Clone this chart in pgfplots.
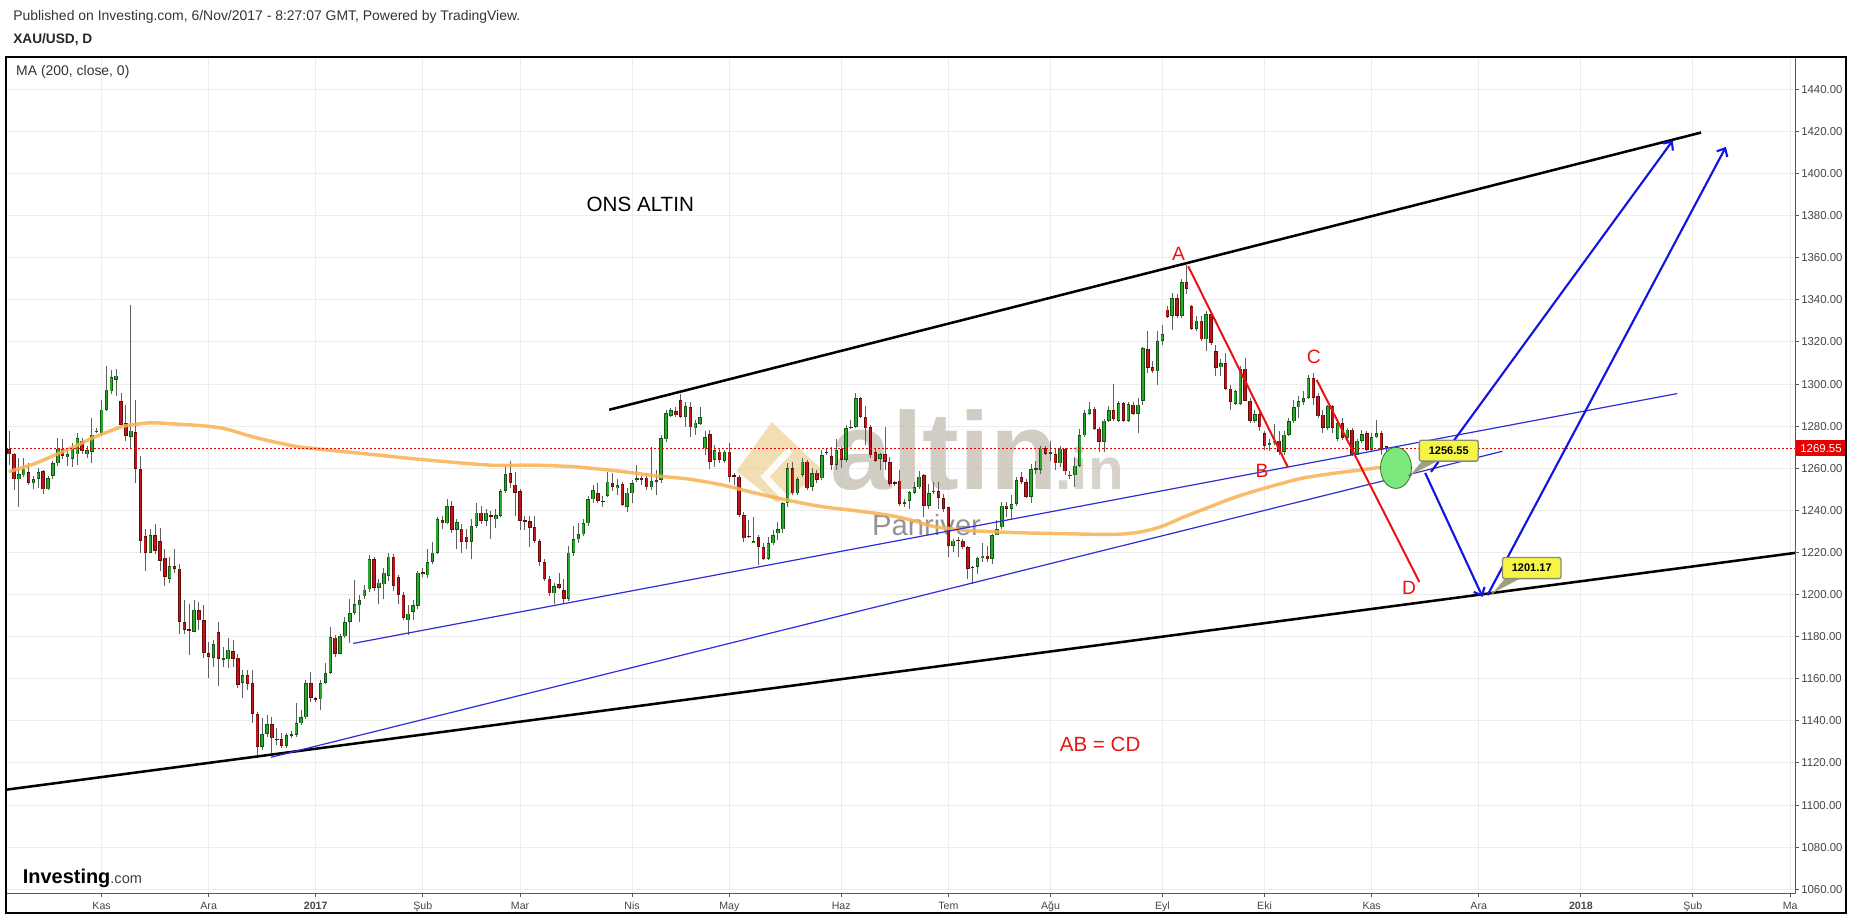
\documentclass[border=0pt]{standalone}
\usepackage{fontspec}
\setmainfont{Liberation Sans}
\usepackage{pgfplots}
\usepackage{pgfplotstable}
\pgfplotsset{compat=1.18}
\usetikzlibrary{arrows.meta}

\definecolor{gridgray}{RGB}{236,236,236}
\definecolor{axisgray}{RGB}{90,90,90}
\definecolor{labelgray}{RGB}{70,70,70}
\definecolor{wickgray}{RGB}{95,95,95}
\definecolor{upfill}{RGB}{40,170,40}
\definecolor{upedge}{RGB}{20,85,20}
\definecolor{dnfill}{RGB}{195,20,28}
\definecolor{dnedge}{RGB}{100,12,12}
\definecolor{maorange}{RGB}{247,178,80}
\definecolor{abred}{RGB}{232,20,20}
\definecolor{thinblue}{RGB}{45,45,215}
\definecolor{arrowblue}{RGB}{20,20,225}
\definecolor{ellfill}{RGB}{125,232,125}
\definecolor{elledge}{RGB}{40,120,40}
\definecolor{callyellow}{RGB}{245,245,70}
\definecolor{callborder}{RGB}{140,140,110}
\definecolor{calltail}{RGB}{160,160,125}
\definecolor{tagred}{RGB}{230,0,0}
\definecolor{wmtext}{RGB}{198,192,180}
\definecolor{wmgold}{RGB}{233,205,140}

\pgfplotstableread{
x o h l c
-19 1269.0 1277.6 1261.5 1266.6
-18 1267.0 1267.5 1249.6 1254.7
-17 1254.7 1265.0 1241.7 1257.1
-16 1256.6 1265.0 1256.0 1259.8
-15 1258.3 1262.6 1252.0 1253.1
-14 1252.8 1256.3 1250.0 1255.0
-13 1255.0 1260.2 1250.8 1258.2
-12 1258.7 1259.4 1247.6 1250.0
-11 1250.0 1256.3 1249.6 1255.5
-10 1256.3 1263.4 1254.7 1262.3
-9 1262.3 1274.2 1261.0 1269.3
-8 1269.3 1273.7 1264.2 1265.8
-7 1265.3 1268.1 1261.0 1266.6
-6 1264.5 1272.1 1260.7 1269.7
-5 1266.6 1276.8 1261.8 1274.5
-4 1272.9 1274.5 1266.6 1268.1
-3 1266.6 1270.5 1265.0 1268.6
-2 1267.7 1284.0 1262.3 1276.0
-1 1277.3 1279.0 1276.8 1277.9
0 1276.8 1292.6 1276.0 1287.9
1 1287.6 1308.5 1287.0 1297.4
2 1296.6 1306.9 1295.5 1303.4
3 1302.0 1307.0 1294.2 1304.0
4 1291.9 1295.8 1280.0 1280.8
5 1281.3 1290.3 1273.0 1275.3
6 1274.9 1337.6 1269.0 1277.9
7 1277.3 1292.3 1253.1 1259.8
8 1259.8 1265.8 1219.9 1225.5
9 1227.8 1231.0 1211.2 1219.9
10 1219.9 1231.3 1219.9 1228.1
11 1228.1 1233.4 1219.1 1220.7
12 1225.5 1231.8 1211.2 1216.0
13 1217.6 1221.5 1204.1 1208.4
14 1207.6 1218.0 1205.7 1213.6
15 1213.6 1221.5 1210.4 1212.3
16 1212.3 1214.5 1181.5 1187.0
17 1187.0 1197.3 1181.2 1183.1
18 1183.6 1195.7 1171.2 1183.0
19 1182.3 1197.3 1182.3 1192.9
20 1192.6 1196.5 1183.1 1187.8
21 1187.8 1194.9 1170.1 1172.3
22 1172.3 1177.6 1160.2 1170.4
23 1170.1 1178.3 1165.7 1176.4
24 1182.3 1187.0 1156.5 1169.6
25 1169.2 1175.2 1165.7 1169.8
26 1169.2 1179.6 1164.9 1173.9
27 1173.3 1178.3 1165.7 1169.6
28 1170.1 1171.7 1155.4 1157.0
29 1158.1 1164.1 1151.1 1161.7
30 1161.7 1164.1 1154.6 1157.5
31 1157.8 1164.1 1139.1 1143.2
32 1143.2 1144.3 1122.2 1127.7
33 1127.7 1141.2 1126.2 1133.8
34 1133.8 1142.8 1132.5 1138.5
35 1138.5 1142.0 1124.9 1131.7
36 1131.6 1136.4 1128.5 1131.0
37 1131.2 1134.1 1127.0 1128.1
38 1128.1 1134.1 1127.0 1133.3
39 1133.2 1135.0 1132.0 1133.8
40 1133.3 1148.6 1132.5 1138.8
41 1138.8 1145.1 1138.0 1141.7
42 1141.7 1159.4 1140.7 1157.8
43 1157.8 1163.0 1149.1 1151.1
44 1150.8 1151.4 1149.0 1150.2
45 1150.2 1159.4 1145.1 1158.1
46 1158.1 1167.6 1157.5 1162.8
47 1162.8 1184.7 1162.5 1179.9
48 1179.6 1180.7 1170.4 1172.0
49 1172.0 1181.5 1171.7 1180.2
50 1180.2 1189.4 1179.6 1187.0
51 1187.0 1198.1 1176.8 1191.3
52 1191.3 1206.8 1190.2 1195.4
53 1194.9 1199.7 1187.0 1197.3
54 1199.2 1204.4 1198.1 1202.4
55 1202.5 1218.7 1201.0 1216.8
56 1216.8 1218.0 1201.7 1203.3
57 1203.3 1207.3 1195.4 1205.7
58 1204.9 1212.8 1198.1 1210.4
59 1208.9 1219.9 1206.5 1218.0
60 1218.0 1219.1 1201.7 1204.1
61 1208.5 1209.2 1195.4 1199.7
62 1199.7 1201.0 1187.8 1189.1
63 1187.8 1195.0 1180.7 1191.0
64 1191.8 1197.3 1187.8 1194.9
65 1194.6 1211.2 1193.0 1210.4
66 1210.6 1212.8 1208.5 1209.8
67 1209.2 1221.5 1208.1 1215.5
68 1215.5 1225.0 1214.4 1219.9
69 1219.9 1236.7 1219.1 1235.7
70 1235.4 1237.3 1231.0 1233.8
71 1233.8 1245.2 1233.4 1242.1
72 1242.1 1244.4 1229.4 1230.7
73 1230.7 1235.7 1221.5 1234.5
74 1231.3 1233.4 1219.9 1225.0
75 1227.6 1231.0 1221.8 1225.0
76 1225.0 1235.7 1216.8 1232.6
77 1232.6 1243.6 1231.8 1238.9
78 1238.9 1242.1 1233.4 1234.9
79 1234.9 1240.5 1232.6 1238.9
80 1237.6 1239.7 1226.3 1237.0
81 1235.7 1240.8 1231.8 1237.6
82 1237.3 1250.0 1236.8 1249.2
83 1249.2 1261.0 1248.4 1257.1
84 1257.6 1263.4 1250.8 1252.8
85 1252.3 1258.2 1237.3 1248.4
86 1249.2 1250.3 1230.7 1234.9
87 1235.4 1237.3 1230.7 1234.8
88 1234.9 1237.3 1222.6 1231.8
89 1232.2 1237.3 1224.7 1225.5
90 1225.5 1226.2 1213.6 1215.5
91 1215.5 1216.8 1206.5 1207.6
92 1207.6 1208.9 1199.4 1200.6
93 1200.6 1205.7 1195.4 1204.1
94 1204.9 1210.4 1202.8 1203.3
95 1202.2 1207.3 1196.2 1197.8
96 1197.8 1223.1 1197.0 1219.9
97 1219.9 1232.6 1218.3 1226.2
98 1226.2 1234.1 1224.7 1228.6
99 1228.6 1235.7 1227.8 1233.8
100 1233.8 1246.8 1232.6 1245.2
101 1245.2 1251.9 1243.6 1249.6
102 1248.1 1253.2 1243.3 1244.6
103 1244.6 1246.8 1241.7 1244.0
104 1246.8 1258.4 1246.5 1253.7
105 1253.2 1258.0 1249.0 1251.3
106 1250.5 1254.8 1247.3 1252.1
107 1252.6 1253.7 1242.1 1242.6
108 1241.7 1250.5 1239.4 1248.4
109 1248.1 1254.4 1243.3 1252.9
110 1254.8 1261.6 1253.7 1255.4
111 1255.2 1256.5 1252.0 1254.6
112 1255.6 1257.6 1249.7 1251.0
113 1251.0 1270.3 1249.7 1254.0
114 1253.7 1259.2 1247.3 1254.4
115 1254.4 1275.9 1252.9 1274.3
116 1273.8 1287.8 1272.7 1286.2
117 1285.0 1288.6 1284.6 1287.5
118 1287.0 1289.0 1284.6 1285.1
119 1292.5 1295.4 1283.8 1284.3
120 1284.3 1291.7 1279.8 1289.7
121 1289.0 1291.7 1275.1 1279.5
122 1279.0 1283.0 1275.9 1281.7
123 1281.1 1289.0 1280.6 1284.3
124 1269.5 1277.5 1266.3 1274.8
125 1276.2 1278.3 1259.5 1263.2
126 1264.0 1271.1 1260.8 1268.7
127 1267.9 1269.5 1262.4 1264.0
128 1263.7 1268.7 1262.7 1267.9
129 1267.9 1271.9 1253.7 1256.0
130 1256.6 1257.6 1252.1 1256.0
131 1256.0 1256.8 1237.0 1237.8
132 1237.8 1239.4 1225.1 1226.7
133 1228.0 1235.4 1226.7 1227.3
134 1224.6 1237.0 1224.3 1225.4
135 1227.5 1228.3 1214.0 1222.7
136 1222.7 1224.3 1216.3 1217.1
137 1217.1 1227.5 1216.3 1224.6
138 1224.3 1230.6 1223.5 1228.3
139 1229.1 1234.6 1225.9 1231.0
140 1231.0 1244.1 1229.1 1243.3
141 1243.3 1262.7 1241.7 1260.0
142 1260.0 1263.2 1247.3 1248.1
143 1248.1 1256.0 1247.3 1254.8
144 1256.8 1264.8 1256.0 1263.2
145 1263.2 1264.0 1249.7 1250.5
146 1251.3 1260.0 1249.0 1257.6
147 1257.9 1259.2 1252.9 1254.4
148 1255.2 1268.7 1254.4 1266.3
149 1267.9 1269.5 1266.5 1267.2
150 1265.9 1270.3 1259.2 1261.6
151 1261.6 1273.8 1259.2 1268.7
152 1269.0 1270.3 1260.0 1264.0
153 1264.0 1280.6 1263.2 1279.0
154 1279.2 1283.0 1278.5 1279.8
155 1279.8 1295.7 1279.0 1293.3
156 1293.3 1294.1 1283.8 1284.6
157 1284.6 1289.4 1271.1 1279.0
158 1279.6 1280.6 1264.8 1266.1
159 1267.7 1269.5 1263.2 1263.7
160 1264.5 1267.2 1259.0 1266.9
161 1266.9 1279.6 1259.0 1262.9
162 1262.9 1265.3 1251.8 1252.6
163 1253.3 1254.0 1251.8 1252.7
164 1254.2 1259.0 1242.3 1243.1
165 1243.4 1245.5 1241.5 1244.0
166 1244.7 1249.4 1240.7 1248.6
167 1248.2 1253.4 1247.9 1251.0
168 1251.0 1258.9 1250.2 1256.1
169 1256.6 1257.4 1236.8 1242.3
170 1242.3 1252.6 1240.7 1248.2
171 1248.7 1253.4 1247.9 1249.3
172 1249.1 1253.4 1240.7 1246.0
173 1246.0 1247.9 1239.1 1240.7
174 1241.5 1241.8 1217.8 1223.3
175 1223.3 1226.5 1220.1 1225.7
176 1226.1 1227.2 1217.8 1225.5
177 1225.7 1226.5 1221.5 1222.5
178 1222.5 1223.3 1207.4 1212.2
179 1213.3 1213.8 1205.1 1212.7
180 1213.0 1217.8 1209.8 1217.4
181 1217.4 1224.4 1215.4 1218.5
182 1218.5 1223.3 1215.4 1216.9
183 1216.9 1228.9 1214.6 1228.1
184 1228.1 1235.2 1228.1 1231.2
185 1232.0 1243.9 1231.2 1242.3
186 1242.3 1243.9 1236.8 1240.7
187 1240.7 1247.1 1236.0 1243.1
188 1243.1 1255.8 1242.3 1254.5
189 1255.8 1258.2 1252.6 1253.4
190 1253.4 1255.0 1246.0 1246.3
191 1246.3 1262.1 1243.4 1259.7
192 1259.5 1263.7 1257.4 1260.1
193 1259.3 1270.8 1257.4 1269.3
194 1269.7 1270.8 1266.1 1266.9
195 1267.0 1273.2 1263.7 1267.6
196 1266.9 1269.3 1259.0 1262.4
197 1262.4 1270.8 1260.5 1269.3
198 1269.3 1269.7 1256.6 1258.5
199 1256.4 1258.9 1255.0 1257.0
200 1256.6 1265.3 1251.3 1261.3
201 1261.3 1278.8 1260.5 1275.6
202 1275.6 1287.5 1274.8 1286.2
203 1285.9 1291.4 1285.1 1288.3
204 1288.3 1289.1 1278.0 1278.8
205 1278.8 1279.6 1267.7 1272.4
206 1272.4 1283.5 1267.7 1282.7
207 1282.7 1289.4 1281.9 1287.8
208 1287.8 1300.2 1282.7 1283.5
209 1282.7 1292.2 1281.9 1291.0
210 1291.0 1291.4 1281.9 1282.4
211 1282.4 1291.4 1281.9 1290.6
212 1290.3 1291.4 1285.2 1285.9
213 1285.9 1293.5 1276.7 1290.3
214 1291.9 1317.5 1290.0 1317.2
215 1316.9 1325.1 1305.3 1307.7
216 1308.0 1310.9 1305.3 1306.1
217 1306.1 1325.4 1299.8 1320.4
218 1320.4 1328.3 1318.8 1323.9
219 1335.4 1337.0 1331.2 1331.8
220 1332.3 1343.4 1325.9 1340.7
221 1340.7 1342.6 1331.5 1332.3
222 1332.3 1349.7 1331.5 1348.6
223 1348.6 1356.5 1342.6 1345.4
224 1337.0 1337.8 1325.9 1326.4
225 1326.4 1332.3 1325.1 1330.2
226 1330.2 1332.3 1320.4 1321.2
227 1321.2 1334.6 1315.6 1333.4
228 1333.4 1334.3 1318.8 1319.6
229 1315.6 1318.8 1303.7 1307.7
230 1308.0 1311.7 1303.7 1310.1
231 1310.1 1314.8 1297.4 1297.9
232 1297.9 1299.8 1287.9 1291.5
233 1290.6 1297.4 1290.3 1296.6
234 1290.6 1308.5 1290.3 1307.4
235 1307.4 1312.5 1291.9 1292.2
236 1292.2 1293.4 1281.6 1282.7
237 1282.7 1287.9 1281.6 1285.8
238 1285.8 1287.1 1277.6 1279.5
239 1276.8 1277.6 1268.9 1270.5
240 1271.0 1273.7 1268.1 1272.1
241 1272.1 1281.1 1271.3 1273.2
242 1273.2 1277.6 1266.5 1267.8
243 1267.8 1277.6 1266.5 1276.0
244 1276.0 1283.9 1275.2 1282.3
245 1282.3 1292.6 1281.6 1289.0
246 1289.0 1294.2 1283.9 1291.9
247 1291.5 1296.6 1290.3 1293.4
248 1293.4 1304.2 1293.1 1302.9
249 1302.9 1305.3 1290.3 1293.4
250 1294.2 1295.8 1283.9 1284.7
251 1285.5 1287.9 1276.8 1279.2
252 1279.2 1290.3 1278.4 1289.5
253 1289.5 1290.3 1276.8 1279.2
254 1274.1 1282.4 1272.9 1281.6
255 1281.6 1284.0 1273.6 1274.4
256 1274.4 1279.2 1273.6 1278.4
257 1278.4 1279.2 1265.7 1266.5
258 1266.5 1273.7 1266.2 1273.2
259 1273.2 1278.4 1272.1 1276.3
260 1276.8 1277.6 1268.4 1268.9
261 1268.9 1276.8 1268.4 1274.7
262 1274.7 1283.1 1274.4 1276.8
263 1276.8 1277.6 1266.5 1268.9
264 1270.4 1270.8 1265.7 1269.55
}\candles

\pgfplotsset{
  candlebar/.style 2 args={draw=none, mark=none, forget plot,
    error bars/.cd, y dir=both, y explicit, error mark=none,
    error bar style={draw=#1, line width=#2, solid}},
}

\begin{document}
\begin{tikzpicture}
\begin{axis}[
  at={(0,0)}, anchor=south west,
  x=3.6495bp, y=1.57875bp,
  xmin=-19.65, xmax=348, ymin=1058.24, ymax=1455.4,
  clip mode=individual,
  axis line style={draw=none},
  tick style={color=axisgray, line width=0.75bp},
  tick align=outside,
  major tick length=3bp,
  xtick pos=bottom,
  ytick pos=right,
  yticklabel pos=right,
  xtick={0,22,44,66,86,109,129,152,174,195,218,239,261,283,304,327,347},
  xticklabels={Kas,Ara,\textbf{2017},Şub,Mar,Nis,May,Haz,Tem,Ağu,Eyl,Eki,Kas,Ara,\textbf{2018},Şub,Ma},
  ytick={1060,1080,...,1440},
  grid=major,
  major grid style={color=gridgray, line width=0.75bp},
  xticklabel style={font=\fontsize{8}{9}\selectfont, text=labelgray},
  yticklabel style={font=\fontsize{8.6}{10}\selectfont, text=labelgray, anchor=west, inner sep=1.5bp,
    /pgf/number format/fixed, /pgf/number format/fixed zerofill,
    /pgf/number format/precision=2, /pgf/number format/1000 sep={},
    /pgf/number format/assume math mode=true},
]
% watermark
\fill[wmgold, opacity=0.65] (axis cs:137.7,1282.0) -- (axis cs:148.7,1257.9) -- (axis cs:138.7,1243.7) -- (axis cs:130.5,1258.7) -- cycle;
\draw[white, line width=5bp, opacity=0.9] (axis cs:141.5,1268.7) -- (axis cs:136.3,1256.0) -- (axis cs:140.8,1245.0);
\node[anchor=base west, inner sep=0, text=wmtext, opacity=0.8, font=\bfseries\fontsize{83}{83}\selectfont] at (axis cs:149.8,1249.7) {altin};
\node[anchor=base west, inner sep=0, text=wmtext, opacity=0.7, font=\bfseries\fontsize{44}{44}\selectfont] at (axis cs:196.0,1249.7) {.in};
\node[anchor=base west, inner sep=0, text=gray, opacity=0.85, font=\fontsize{22}{22}\selectfont] at (axis cs:158.3,1228.3) {Panriver};

% wicks
\addplot[draw=none, mark=none, forget plot, error bars/.cd, y dir=plus, y explicit, error mark=none,
  error bar style={draw=wickgray, line width=0.75bp, solid}]
  table[x=x, y=l, y error expr={\thisrow{h}-\thisrow{l}}] {\candles};
% up bodies
\addplot[restrict expr to domain={\thisrow{c}-\thisrow{o}}{0:1000}, candlebar={upedge}{2.6bp}]
  table[x=x, y expr={(\thisrow{o}+\thisrow{c})/2}, y error expr={abs(\thisrow{c}-\thisrow{o})/2}] {\candles};
\addplot[restrict expr to domain={\thisrow{c}-\thisrow{o}}{0:1000}, candlebar={upfill}{1.4bp}]
  table[x=x, y expr={(\thisrow{o}+\thisrow{c})/2}, y error expr={max(abs(\thisrow{c}-\thisrow{o})/2-0.35,0)}] {\candles};
% down bodies
\addplot[restrict expr to domain={\thisrow{c}-\thisrow{o}}{-1000:-0.001}, candlebar={dnedge}{2.6bp}]
  table[x=x, y expr={(\thisrow{o}+\thisrow{c})/2}, y error expr={abs(\thisrow{c}-\thisrow{o})/2}] {\candles};
\addplot[restrict expr to domain={\thisrow{c}-\thisrow{o}}{-1000:-0.001}, candlebar={dnfill}{1.4bp}]
  table[x=x, y expr={(\thisrow{o}+\thisrow{c})/2}, y error expr={max(abs(\thisrow{c}-\thisrow{o})/2-0.35,0)}] {\candles};

% MA 200
\addplot[maorange, line width=2.6bp, opacity=0.85, smooth, tension=0.5] coordinates {
(-19.1,1258.4) (-14,1262) (-8.9,1267) (-4.5,1271.5) (-1.8,1274.5) (1.5,1277.5) (4.5,1280)
(8.4,1281.3) (10.8,1281.6) (15.5,1281) (21.8,1280) (25.7,1278.6) (29.5,1276) (33.6,1273.5)
(39.9,1270.4) (43.9,1269.3) (49.4,1268) (57.2,1266.2) (65.1,1264.3) (73,1262.7) (80.9,1261.4)
(88.7,1261.5) (96.6,1260.8) (102,1259.7) (107.2,1258.4) (114,1256.4) (120.9,1254.8) (127.7,1252)
(134.6,1248.1) (141.5,1244.6) (148.3,1241.7) (155.1,1239.8) (162,1237.6) (167,1235) (171.1,1232.3)
(178,1230.5) (184.8,1229.7) (191.7,1229.2) (198.6,1228.9) (205.4,1228.6) (210,1228.8) (214,1230)
(218,1232.5) (222,1236.5) (227,1241) (232,1245.5) (236.7,1249) (242,1252.5) (247,1255.4)
(253.8,1257.8) (258,1259) (262,1260.2) (264,1260.6)};

% last price line
\addplot[tagred, line width=0.75bp, dash pattern=on 1.5bp off 1.5bp] coordinates {(-19.65,1269.55) (348,1269.55)};

% trend lines
\addplot[black, line width=1.9bp] coordinates {(104.3,1287.8) (328.7,1419.5)};
\addplot[black, line width=1.9bp] coordinates {(-19.65,1107.3) (348,1219.8)};
\addplot[thinblue, line width=0.9bp] coordinates {(51.7,1176.8) (323.8,1295.5)};
\addplot[thinblue, line width=0.9bp] coordinates {(34.8,1122.7) (287.9,1268.1)};
\addplot[abred, line width=1.5bp] coordinates {(223.3,1356.0) (243.8,1260.5)};
\addplot[abred, line width=1.5bp] coordinates {(249.7,1302.0) (270.8,1206.0)};
\addplot[arrowblue, line width=1.6bp, -{Straight Barb[length=5bp, width=9bp]}] coordinates {(273.2,1258.3) (322.9,1415.8)};
\addplot[arrowblue, line width=1.6bp, -{Straight Barb[length=5bp, width=9bp]}] coordinates {(272.0,1257.8) (283.8,1198.9)};
\addplot[arrowblue, line width=1.6bp, -{Straight Barb[length=5bp, width=9bp]}] coordinates {(284.8,1199.7) (333.8,1412.7)};

% green ellipse
\draw[fill=ellfill, draw=elledge, line width=0.6bp] (axis cs:266.0,1260.2) ellipse [x radius=11.6bp, y radius=15.4bp];

% callouts
\fill[calltail] (axis cs:268.9,1256.7) -- (axis cs:271.6,1264.0) -- (axis cs:275.0,1264.0) -- cycle;
\fill[calltail!70!black] (axis cs:268.9,1256.7) circle[radius=1.3bp];
\draw[fill=callyellow, draw=callborder, line width=1bp, rounded corners=1.5bp] (axis cs:270.8,1263.4) rectangle (axis cs:282.9,1273.3);
\node[font=\bfseries\fontsize{8.3}{9}\selectfont] at (axis cs:276.85,1268.35) {1256.55};
\fill[calltail] (axis cs:285.9,1200.8) -- (axis cs:288.6,1208.2) -- (axis cs:292.0,1208.2) -- cycle;
\fill[calltail!70!black] (axis cs:285.9,1200.8) circle[radius=1.3bp];
\draw[fill=callyellow, draw=callborder, line width=1bp, rounded corners=1.5bp] (axis cs:287.9,1207.6) rectangle (axis cs:299.9,1217.6);
\node[font=\bfseries\fontsize{8.3}{9}\selectfont] at (axis cs:293.9,1212.6) {1201.17};

% labels
\node[font=\fontsize{15.5}{16}\selectfont] at (axis cs:110.7,1385.4) {ONS ALTIN};
\node[text=abred, font=\fontsize{15.5}{16}\selectfont] at (axis cs:205.2,1128.8) {AB = CD};
\node[text=abred, font=\fontsize{14.5}{15}\selectfont] at (axis cs:221.3,1362) {A};
\node[text=abred, font=\fontsize{14.5}{15}\selectfont] at (axis cs:238.5,1258.8) {B};
\node[text=abred, font=\fontsize{14.5}{15}\selectfont] at (axis cs:249.1,1313) {C};
\node[text=abred, font=\fontsize{14.5}{15}\selectfont] at (axis cs:268.7,1203.2) {D};
\node[anchor=west, inner sep=0, text=black!80, font=\fontsize{10.5}{12}\selectfont] at (axis cs:-17.6,1448.3) {MA (200, close, 0)};

% price tag
\fill[tagred] ([yshift=-6bp]axis cs:348,1269.55) rectangle ([xshift=38.25bp, yshift=6bp]axis cs:348,1269.55);
\node[text=white, font=\fontsize{8.6}{10}\selectfont] at ([xshift=19.5bp]axis cs:348,1269.55) {1269.55};
\end{axis}

% axis lines and frame
\draw[axisgray, line width=0.75bp] (0,0) -- (1341.75bp,0) -- (1341.75bp,627bp);
\draw[black, line width=1bp] (0,-15bp) rectangle (1380bp,627bp);

% header
\node[anchor=west, inner sep=0, text=black!80, font=\fontsize{10.5}{12}\selectfont] at (5.25bp,657.4bp) {Published on Investing.com, 6/Nov/2017 - 8:27:07 GMT, Powered by TradingView.};
\node[anchor=west, inner sep=0, text=black!85, font=\bfseries\fontsize{10.3}{12}\selectfont] at (5.25bp,639.75bp) {XAU/USD, D};

% logo
\node[anchor=base west, inner sep=0] at (12.5bp,7.5bp) {\fontsize{15}{15}\selectfont\bfseries Investing\fontsize{11}{11}\mdseries\color{black!75}.com};

\pgfresetboundingbox
\path (-4.5bp,-18.75bp) rectangle (1385.25bp,669.75bp);
\end{tikzpicture}
\end{document}
